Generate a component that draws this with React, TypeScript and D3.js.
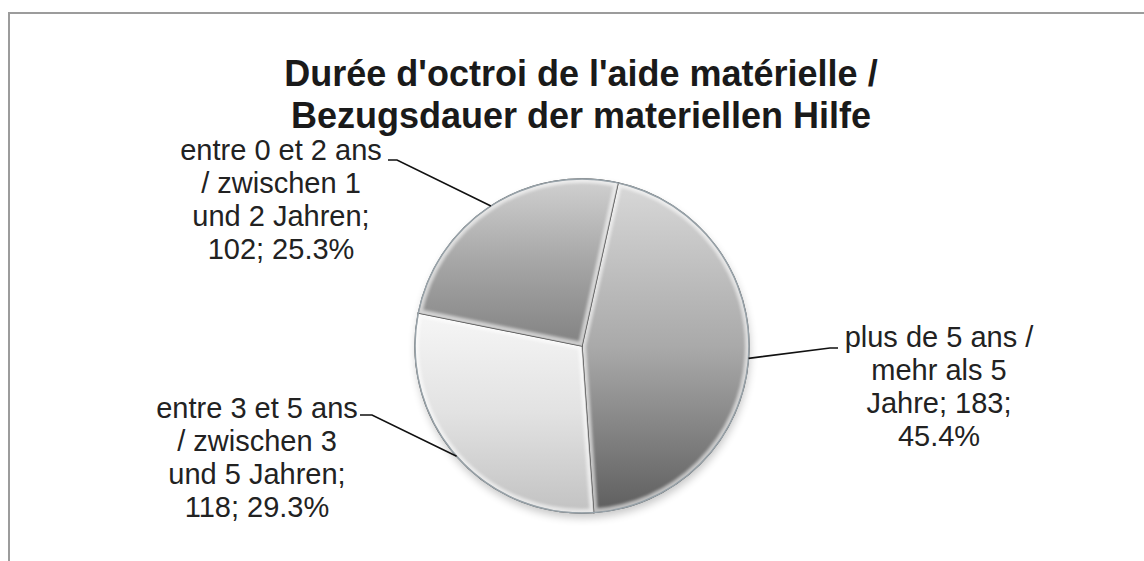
import React, { useMemo } from 'react';
import * as d3 from 'd3';

// chart data
const categories = [
  'plus de 5 ans / mehr als 5 Jahre',
  'entre 3 et 5 ans / zwischen 3 und 5 Jahren',
  'entre 0 et 2 ans / zwischen 1 und 2 Jahren',
];
const counts = [183, 118, 102];
const titleLines = ["Durée d'octroi de l'aide matérielle /", 'Bezugsdauer der materiellen Hilfe'];

const W = 1144;
const H = 561;
const cx = 582;
const cy = 346;
const R = 167;
const startDeg = 12.5;
const FONT = '"Liberation Sans", Arial, Helvetica, sans-serif';
const labelSize = 29;
const lineGap = 33;

// slice shading, top -> bottom of each slice
const shades = [
  { top: '#d8d8d8', mid: '#a9a9a9', bottom: '#5e5e5e' },
  { top: '#f6f6f6', mid: '#e2e2e2', bottom: '#c2c2c2' },
  { top: '#d0d0d0', mid: '#a6a6a6', bottom: '#828282' },
];

// where each label block sits (centre x, first baseline) and its leader elbow
const labelLayout = [
  { x: 939, y: 347, elbow: 830, tip: 838, ly: 348 },
  { x: 257, y: 418, elbow: 372, tip: 360, ly: 415 },
  { x: 281, y: 160, elbow: 397, tip: 388, ly: 160 },
];

function wrapText(text: string, max: number): string[] {
  const ctx = document.createElement('canvas').getContext('2d');
  if (!ctx) return [text];
  ctx.font = `${labelSize}px ${FONT}`;
  const words = text.split(' ');
  const lines: string[] = [];
  let cur = '';
  for (const w of words) {
    const test = cur ? cur + ' ' + w : w;
    if (cur && ctx.measureText(test).width > max) {
      lines.push(cur);
      cur = w;
    } else {
      cur = test;
    }
  }
  if (cur) lines.push(cur);
  return lines;
}

interface Datum {
  name: string;
  value: number;
}

const App: React.FC = () => {
  const data: Datum[] = categories.map((name, i) => ({ name, value: counts[i] }));
  const total = d3.sum(counts);

  const start = (startDeg * Math.PI) / 180;
  const pie = d3
    .pie<Datum>()
    .sort(null)
    .value((d) => d.value)
    .startAngle(start)
    .endAngle(start + 2 * Math.PI);

  const arcs = useMemo(() => pie(data), []);

  const arcGen = d3.arc<d3.PieArcDatum<Datum>>().innerRadius(0).outerRadius(R);
  const rimGen = d3.arc<d3.PieArcDatum<Datum>>().innerRadius(R).outerRadius(R);

  return (
    <svg
      width={W}
      height={H}
      viewBox={`0 0 ${W} ${H}`}
      style={{ position: 'absolute', left: 0, top: 0, background: '#fff' }}
    >
      <defs>
        {shades.map((s, i) => (
          <linearGradient key={i} id={`shade${i}`} x1="0" y1="0" x2="0" y2="1">
            <stop offset="0%" stopColor={s.top} />
            <stop offset="50%" stopColor={s.mid} />
            <stop offset="100%" stopColor={s.bottom} />
          </linearGradient>
        ))}
        {arcs.map((a, i) => (
          <clipPath key={i} id={`clip${i}`}>
            <path d={arcGen(a) || undefined} />
          </clipPath>
        ))}
        <filter id="soft" x="-10%" y="-10%" width="120%" height="120%">
          <feGaussianBlur stdDeviation="1.6" />
        </filter>
        <filter id="shadow" x="-20%" y="-20%" width="140%" height="140%">
          <feGaussianBlur stdDeviation="4" />
        </filter>
      </defs>

      {/* chart area frame, cut by the picture edge */}
      <rect x={9} y={13} width={W + 40} height={H + 40} fill="#fff" stroke="#9c9c9c" strokeWidth={2} />

      {titleLines.map((t, i) => (
        <text
          key={t}
          x={581}
          y={86 + i * 42}
          textAnchor="middle"
          fontFamily={FONT}
          fontWeight="bold"
          fontSize={36}
          fill="#1a1a1a"
        >
          {t}
        </text>
      ))}

      <g transform={`translate(${cx},${cy})`}>
        {/* soft drop shadow */}
        <circle cx={1} cy={5} r={R} fill="#000" opacity={0.22} filter="url(#shadow)" />

        {arcs.map((a, i) => (
          <g key={a.data.name}>
            <path d={arcGen(a) || undefined} fill={`url(#shade${i})`} stroke="#4f4f4f" strokeWidth={1.3} />
            <g clipPath={`url(#clip${i})`}>
              <path
                d={arcGen(a) || undefined}
                fill="none"
                stroke="#fff"
                strokeWidth={8}
                opacity={0.6}
                filter="url(#soft)"
              />
            </g>
          </g>
        ))}
        <circle r={R} fill="none" stroke="#97a2a9" strokeWidth={1.4} />
      </g>

      {arcs.map((a, i) => {
        const pct = ((a.data.value / total) * 100).toFixed(1);
        const lines = wrapText(`${a.data.name}; ${a.data.value}; ${pct}%`, 210);
        const lay = labelLayout[i];
        const [px, py] = rimGen.centroid(a);
        const pts: [number, number][] = [
          [cx + px, cy + py],
          [lay.elbow, lay.ly],
          [lay.tip, lay.ly],
        ];
        return (
          <g key={`lab${i}`}>
            <path d={d3.line()(pts) || undefined} fill="none" stroke="#111" strokeWidth={1.6} />
            {lines.map((ln, j) => (
              <text
                key={j}
                x={lay.x}
                y={lay.y + j * lineGap}
                textAnchor="middle"
                fontFamily={FONT}
                fontSize={labelSize}
                fill="#222"
              >
                {ln}
              </text>
            ))}
          </g>
        );
      })}
    </svg>
  );
};

export default App;
